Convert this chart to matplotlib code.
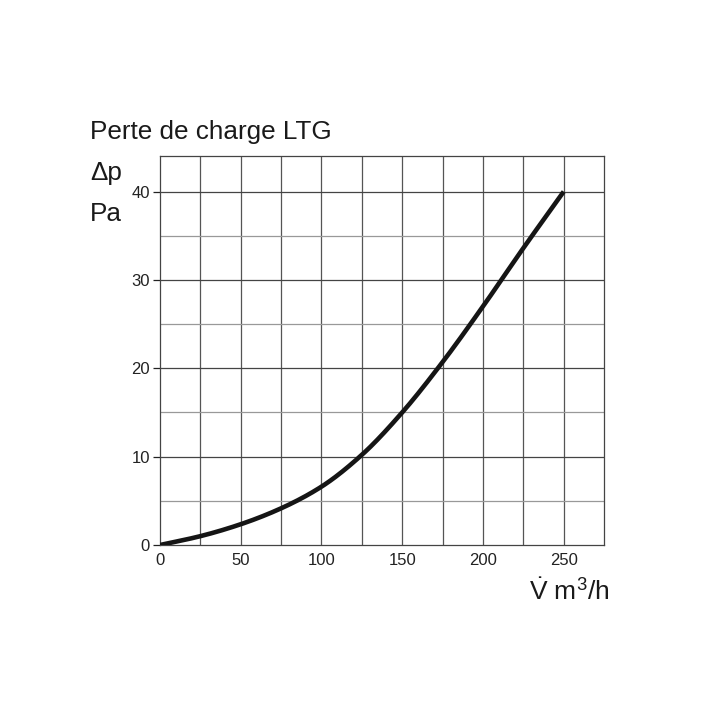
import matplotlib
matplotlib.use("Agg")
import matplotlib.pyplot as plt
import numpy as np

plt.rcParams['font.family'] = ['Liberation Sans', 'DejaVu Sans']
plt.rcParams['mathtext.fontset'] = 'custom'
plt.rcParams['mathtext.rm'] = 'Liberation Sans'
plt.rcParams['mathtext.it'] = 'Liberation Sans'

flow = [0, 25, 50, 75, 100, 125, 150, 175, 200, 225, 250]
pressure = [0, 1.0, 2.35, 4.15, 6.6, 10.2, 15.0, 20.7, 27.0, 33.6, 40.0]
x_ticks = [0, 50, 100, 150, 200, 250]
y_ticks = [0, 10, 20, 30, 40]

fig = plt.figure(figsize=(7.2, 7.2), dpi=100)
ax = fig.add_axes([0.222, 0.243, 0.617, 0.540])

xs = np.array(flow, dtype=float)
ys = np.array(pressure, dtype=float)
xx = np.linspace(0, 250, 300)

def pchip(x, y, xn):
    h = np.diff(x); d = np.diff(y) / h
    m = np.zeros_like(y)
    for k in range(1, len(x) - 1):
        if d[k-1] * d[k] > 0:
            w1 = 2*h[k] + h[k-1]; w2 = h[k] + 2*h[k-1]
            m[k] = (w1 + w2) / (w1/d[k-1] + w2/d[k])
    m[0] = d[0]; m[-1] = d[-1]
    idx = np.clip(np.searchsorted(x, xn) - 1, 0, len(x) - 2)
    t = (xn - x[idx]) / h[idx]
    h00 = 2*t**3 - 3*t**2 + 1; h10 = t**3 - 2*t**2 + t
    h01 = -2*t**3 + 3*t**2; h11 = t**3 - t**2
    return h00*y[idx] + h10*h[idx]*m[idx] + h01*y[idx+1] + h11*h[idx]*m[idx+1]
yy = pchip(xs, ys, xx)

ax.set_xlim(0, 275)
ax.set_ylim(0, 44)

for gx in np.arange(25, 275, 25):
    ax.axvline(gx, color='#555555', lw=0.9, zorder=1)
for gy in np.arange(5, 44, 5):
    c = '#444444' if gy % 10 == 0 else '#999999'
    ax.axhline(gy, color=c, lw=0.9, zorder=1)

ax.plot(xx, yy, color='#151515', lw=3.3, solid_capstyle='butt', zorder=3)

ax.set_xticks(x_ticks)
ax.set_yticks(y_ticks)
ax.tick_params(axis='x', length=0, labelsize=12, pad=6, colors='#222222')
ax.tick_params(axis='y', length=5, width=0.9, labelsize=12, pad=2, colors='#222222', direction='out')
for s in ax.spines.values():
    s.set_color('#444444')
    s.set_linewidth(0.9)

fig.text(0.125, 0.817, 'Perte de charge LTG', fontsize=18.8, color='#1a1a1a', va='center', ha='left')
fig.text(0.125, 0.760, 'Δp', fontsize=18.8, color='#1a1a1a', va='center', ha='left')
fig.text(0.125, 0.703, 'Pa', fontsize=18.8, color='#1a1a1a', va='center', ha='left')
fig.text(0.847, 0.178, r'$\dot{\mathrm{V}}$ m$^{3}$/h', fontsize=19, color='#1a1a1a', va='center', ha='right')

fig.savefig('out.png', dpi=100)
